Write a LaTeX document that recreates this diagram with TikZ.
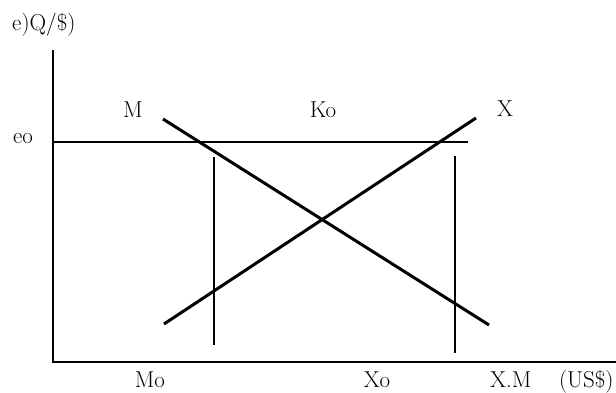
\documentclass[tikz,border=0pt]{standalone}
\begin{document}
\begin{tikzpicture}[x=1pt,y=-1pt,
  axis/.style={line width=1.8pt},
  curve/.style={line width=3pt},
  guide/.style={line width=1.3pt},
  lbl/.style={font=\fontsize{23}{27}\selectfont, inner sep=0pt, anchor=base}]
\useasboundingbox (0,0) rectangle (616,392);
\begin{scope}
\clip (0,0) rectangle (616,392);
% axes
\coordinate (O) at (53,362);
\coordinate (Ytop) at (53,50);
\coordinate (Xend) at (620,362);
\draw[axis] (Ytop) -- (O) -- (Xend);
% eo line
\coordinate (E0) at (53,142);
\coordinate (E1) at (468,142);
\draw[guide] (E0) -- (E1);
% curves
\coordinate (M0) at (163,119);
\coordinate (M1) at (489,325);
\coordinate (X0) at (164,324);
\coordinate (X1) at (476,118);
\draw[curve] (M0) -- (M1);
\draw[curve] (X0) -- (X1);
% verticals
\coordinate (L0) at (214,157);
\coordinate (L1) at (214,345);
\coordinate (R0) at (455,156);
\coordinate (R1) at (455,353);
\draw[guide] (L0) -- (L1);
\draw[guide] (R0) -- (R1);
% labels
\node[lbl, anchor=base west] (ylab) at (12,30) {e)Q/\$)};
\node[lbl] (eo) at (23,143) {eo};
\node[lbl] (Mlab) at (133,117) {M};
\node[lbl] (Ko) at (323,117) {Ko};
\node[lbl] (Xlab) at (505,116) {X};
\node[lbl] (Mo) at (150,387) {Mo};
\node[lbl] (Xo) at (377,387) {Xo};
\node[lbl, anchor=base west] (xlab) at (490,387) {X.M\hspace{1.2em}(US\$)};
\end{scope}
\end{tikzpicture}
\end{document}
